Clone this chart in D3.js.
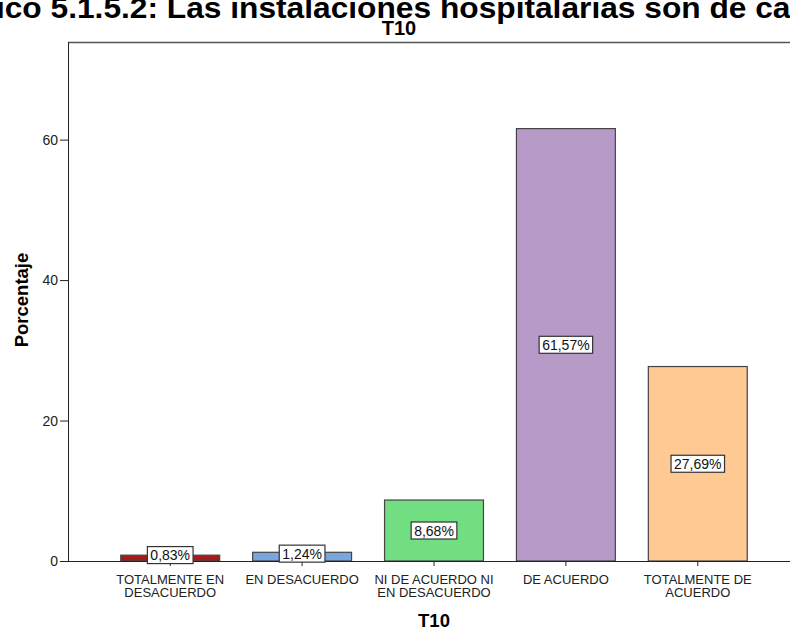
<!DOCTYPE html>
<html><head><meta charset="utf-8">
<script src="https://cdn.jsdelivr.net/npm/d3@7"></script>
<style>body{margin:0;background:#fff}svg{display:block;font-family:"Liberation Sans",Arial,sans-serif}</style>
</head><body><svg id="c" width="790" height="631"></svg>
<script>
const categories = [["TOTALMENTE EN","DESACUERDO"],["EN DESACUERDO"],["NI DE ACUERDO NI","EN DESACUERDO"],["DE ACUERDO"],["TOTALMENTE DE","ACUERDO"]];
const values = [0.83, 1.24, 8.68, 61.57, 27.69];
const valueLabels = ["0,83%","1,24%","8,68%","61,57%","27,69%"];
const colors = ["#a31c1c","#79a7dc","#72de82","#b89ac9","#ffc994"];
const yTicks = [0, 20, 40, 60];
const titleText = "Gráfico 5.1.5.2: Las instalaciones hospitalarias son de calidad";
const subtitle = "T10";
const yTitle = "Porcentaje";
const xTitle = "T10";

const svg = d3.select("#c");
const pL = 68, pR = 800, pT = 42, pB = 561;
const x = d3.scaleBand().domain(d3.range(values.length)).range([pL, pR]).paddingInner(0.25).paddingOuter(0.4);
const y = d3.scaleLinear().domain([0, 73.9]).range([pB, pT]);

// main title: wider than the canvas, clipped on both sides like the reference
{
  const iStart = titleText.indexOf("ico");
  const iEnd = titleText.indexOf("calidad") + 2;
  const measure = s => {
    const t = svg.append("text").attr("font-size",30).attr("font-weight","bold").text(s);
    const w = t.node().getBBox().width; t.remove(); return w;
  };
  const preW = measure(titleText.slice(0, iStart));
  const visW = measure(titleText.slice(iStart, iEnd));
  const k = 795 / visW;
  svg.append("text").attr("x", 0).attr("y", 18).attr("font-size", 30).attr("font-weight","bold")
    .attr("transform", `translate(${-3 - preW * k},0) scale(${k},1)`).text(titleText);
}
svg.append("text").attr("x", 399).attr("y", 35).attr("text-anchor","middle")
  .attr("font-size", 20).attr("font-weight","bold").text(subtitle);

svg.append("line").attr("x1", pL).attr("x2", 790).attr("y1", pT+0.5).attr("y2", pT+0.5).attr("stroke","#555").attr("stroke-width",1.5);

svg.selectAll("rect.bar").data(values).join("rect").attr("class","bar")
  .attr("x",(d,i)=>x(i)).attr("width",x.bandwidth())
  .attr("y",d=>y(d)).attr("height",d=>pB-y(d))
  .attr("fill",(d,i)=>colors[i]).attr("stroke","#444").attr("stroke-width",1.2);

const ya = svg.append("g").attr("transform",`translate(${pL},0)`)
  .call(d3.axisLeft(y).tickValues(yTicks).tickSize(8).tickPadding(2).tickSizeOuter(0));
ya.select(".domain").attr("stroke","#222").attr("d",`M0.5,${pB}V${pT}`);
ya.selectAll("text").attr("font-size",14).attr("fill","#222").attr("font-family","Liberation Sans, Arial, sans-serif");
ya.selectAll(".tick line").attr("stroke","#222");

const xa = svg.append("g").attr("transform",`translate(0,${pB})`)
  .call(d3.axisBottom(x).tickSize(5).tickSizeOuter(0).tickFormat(""));
xa.select(".domain").attr("stroke","#222").attr("d",`M${pL},0.5H790`);
xa.selectAll(".tick line").attr("stroke","#222");
xa.selectAll(".tick").each(function(d){
  const t = d3.select(this).select("text").attr("font-size",13).attr("fill","#222")
    .attr("y",0).attr("dy",0).attr("font-family","Liberation Sans, Arial, sans-serif");
  categories[d].forEach((s,k)=>t.append("tspan").attr("x",0).attr("y",23 + k*12.5).text(s));
});

values.forEach((v,i)=>{
  const cx = x(i)+x.bandwidth()/2, cy = (y(v)+pB)/2 - (v<2?3:0);
  const g = svg.append("g");
  const t = g.append("text").attr("x",cx).attr("y",cy).attr("dy","0.36em").attr("text-anchor","middle")
    .attr("font-size",14).attr("fill","#111").text(valueLabels[i]);
  const w = t.node().getComputedTextLength()+6;
  g.insert("rect","text").attr("x",cx-w/2).attr("y",cy-8.5).attr("width",w).attr("height",17)
    .attr("fill","#fff").attr("stroke","#333").attr("stroke-width",1.2);
});

svg.append("text").attr("transform",`translate(28,${300}) rotate(-90)`).attr("text-anchor","middle")
  .attr("font-size",18.5).attr("font-weight","bold").text(yTitle);
svg.append("text").attr("x",(pL+pR)/2).attr("y",627).attr("text-anchor","middle")
  .attr("font-size",18.5).attr("font-weight","bold").text(xTitle);
</script></body></html>
